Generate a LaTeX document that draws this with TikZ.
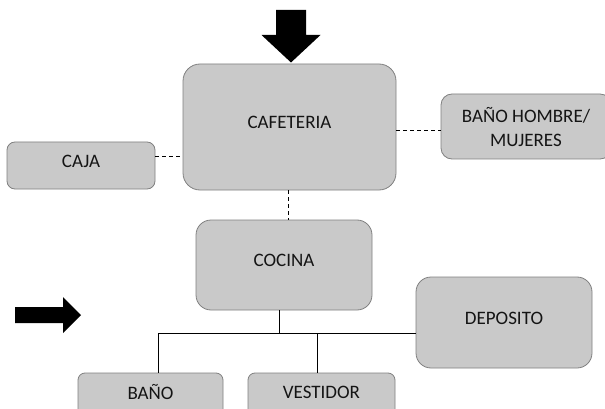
\documentclass[tikz,border=0pt]{standalone}
\usepackage{fontspec}
\setmainfont{Carlito}
\usetikzlibrary{positioning}
\definecolor{boxfill}{RGB}{201,201,201}
\definecolor{boxline}{RGB}{128,128,128}
\definecolor{labeltext}{RGB}{20,20,20}

\begin{document}
\begin{tikzpicture}[x=1pt, y=-1pt,
  room/.style={draw=boxline, fill=boxfill, rounded corners=#1, text=labeltext, font=\fontsize{19}{24.5}\selectfont, align=center, inner sep=0pt, text depth=9pt, line width=0.8pt},
  room/.default=15pt,
  link/.style={line width=0.8pt},
  dlink/.style={link, dash pattern=on 4pt off 3pt},
  bigarrow/.style={fill=black},
]
  \useasboundingbox (0,0) rectangle (605,409);
  \clip (0,0) rectangle (605,409);
  \node[room=17pt, minimum width=213pt, minimum height=126pt] (cafeteria) at (289.5,127) {CAFETERIA};
  \node[room=8pt, minimum width=148pt, minimum height=47pt] (caja) at (81,165.5) {CAJA};
  \node[room=11pt, minimum width=170pt, minimum height=65pt, text depth=0pt, text height=40pt] (banos) at (526,126.5) {BAÑO HOMBRE/\\MUJERES};
  \node[room, minimum width=176pt, minimum height=90pt] (cocina) at (284,265) {COCINA};
  \node[room, minimum width=176pt, minimum height=91pt] (deposito) at (504,322.5) {DEPOSITO};
  \node[room=7pt, minimum width=145pt, minimum height=47pt] (bano) at (150.5,396.5) {BAÑO};
  \node[room=7pt, minimum width=147pt, minimum height=47pt] (vestidor) at (321.5,396.5) {VESTIDOR};
  \coordinate (bus) at (279,333);
  \coordinate (banoleg) at (158,333);
  \coordinate (vestleg) at (317,333);
  \draw[dlink] ([yshift=9pt]caja.east) -- ([yshift=9pt]caja.east -| cafeteria.west);
  \draw[dlink] ([yshift=-3pt]cafeteria.east) -- ([yshift=-3pt]cafeteria.east -| banos.west);
  \draw[dlink] ([xshift=-1.5pt]cafeteria.south) -- ([xshift=-1.5pt]cafeteria.south |- cocina.north);
  \draw[link] ([xshift=-5pt]cocina.south) -- (bus);
  \draw[link] (banoleg) -- (bus -| deposito.west);
  \draw[link] (banoleg) -- (banoleg |- bano.north);
  \draw[link] (vestleg) -- (vestleg |- vestidor.north);
  \fill[bigarrow] (276,10) -- (306,10) -- (306,35) -- (320.5,35) -- (291,62.5) -- (261.5,35) -- (276,35) -- cycle;
  \fill[bigarrow] (15,307) -- (63,307) -- (63,297) -- (81,315) -- (63,333) -- (63,323) -- (15,323) -- cycle;
\end{tikzpicture}
\end{document}
